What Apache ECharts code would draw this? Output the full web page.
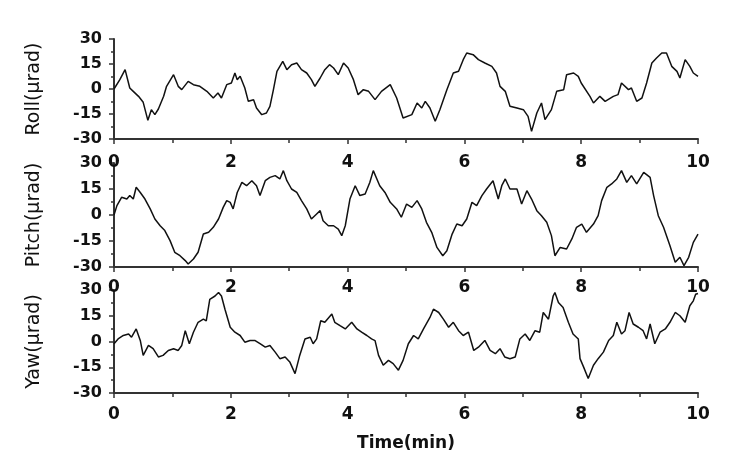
<!DOCTYPE html>
<html><head><meta charset="utf-8">
<script src="https://cdn.jsdelivr.net/npm/echarts@6/dist/echarts.min.js"></script>
<style>html,body{margin:0;padding:0;background:#fff}#c{width:743px;height:468px}</style>
</head><body><div id="c"></div>
<script>
const panelNames = ['Roll(\u03bcrad)', 'Pitch(\u03bcrad)', 'Yaw(\u03bcrad)'];
const xTickLabels = ['0', '2', '4', '6', '8', '10'];
const yTickLabels = ['-30', '-15', '0', '15', '30'];
const xTitle = 'Time(min)';

const roll = [[0,0],[0.1,5.6],[0.19,11.6],[0.27,0.6],[0.33,-1.4],[0.42,-4.4],[0.5,-8],[0.58,-18.8],[0.64,-12.4],[0.7,-15.4],[0.76,-12],[0.85,-4.4],[0.9,1.6],[1.02,8.6],[1.1,1.6],[1.16,-0.4],[1.27,4.6],[1.36,2.6],[1.47,1.6],[1.59,-1.4],[1.7,-5.4],[1.78,-2.4],[1.84,-5.4],[1.93,2.6],[2.01,3.6],[2.07,9.6],[2.11,5.6],[2.16,7.6],[2.24,0.6],[2.3,-7.4],[2.39,-6.4],[2.44,-11.4],[2.53,-15.4],[2.61,-14.4],[2.67,-10.4],[2.73,-0.4],[2.79,10.6],[2.89,16.6],[2.96,11.6],[3.04,14.6],[3.07,13.6],[3.13,15.6],[3.21,11.6],[3.3,9.6],[3.38,5.6],[3.44,1.6],[3.53,6.6],[3.61,11.6],[3.69,14.6],[3.76,12.6],[3.84,8.6],[3.93,15.6],[4.01,12.6],[4.1,5.6],[4.18,-3.4],[4.27,-0.4],[4.36,-1.4],[4.47,-6.4],[4.58,-1.4],[4.73,2.6],[4.84,-5.4],[4.95,-17.4],[5.1,-15.4],[5.19,-8.4],[5.27,-11.4],[5.33,-7.4],[5.41,-11.4],[5.5,-19.4],[5.58,-12.4],[5.7,-0.4],[5.81,9.6],[5.9,10.6],[5.98,17.6],[6.04,21.6],[6.15,20.6],[6.24,17.6],[6.35,15.6],[6.47,13.6],[6.55,9.6],[6.61,1.6],[6.7,-1.4],[6.78,-10.4],[6.9,-11.4],[7.01,-12.4],[7.09,-16.4],[7.15,-25.4],[7.24,-14.4],[7.32,-8.4],[7.38,-18.4],[7.49,-12.4],[7.58,-1.4],[7.7,-0.4],[7.75,8.6],[7.87,9.6],[7.95,7.6],[8.0,3.6],[8.15,-4.4],[8.21,-8.4],[8.32,-4.4],[8.41,-7.4],[8.55,-4.4],[8.63,-3.4],[8.69,3.6],[8.81,-0.4],[8.86,0.6],[8.95,-7.4],[9.04,-5.4],[9.12,3.6],[9.21,15.6],[9.29,18.6],[9.38,21.6],[9.46,21.6],[9.55,13.6],[9.64,10.6],[9.69,6.6],[9.78,17.6],[9.86,13.6],[9.92,9.6],[10,7.6]];

const pitch = [[0,0],[0.05,5.4],[0.13,10.2],[0.22,9.2],[0.27,11.2],[0.33,9.2],[0.38,16],[0.45,13],[0.53,9.2],[0.62,3.5],[0.7,-2.3],[0.79,-6.2],[0.87,-9],[0.96,-14.8],[1.04,-21.5],[1.13,-23.5],[1.22,-26.3],[1.27,-28.3],[1.36,-25.4],[1.44,-21.5],[1.53,-11],[1.62,-10],[1.7,-7.1],[1.79,-2.3],[1.87,4.4],[1.93,8.3],[1.99,7.3],[2.04,3.5],[2.11,13],[2.19,18.8],[2.27,16.9],[2.36,19.8],[2.44,16.9],[2.5,11.2],[2.59,19.8],[2.67,21.7],[2.76,22.7],[2.84,20.8],[2.9,25.6],[2.96,19.8],[3.04,15],[3.13,13],[3.21,8.3],[3.3,3.5],[3.38,-2.3],[3.47,0.6],[3.53,2.5],[3.58,-3.3],[3.67,-6.2],[3.76,-6.2],[3.84,-8.1],[3.9,-11.9],[3.96,-6.2],[4.04,9.2],[4.13,16.9],[4.21,11.2],[4.3,12.1],[4.38,18.8],[4.44,25.6],[4.47,24.6],[4.55,16.9],[4.64,13],[4.73,7.3],[4.84,3.5],[4.92,-1.3],[5.01,6.3],[5.1,4.4],[5.19,8.3],[5.27,3.5],[5.35,-4.2],[5.44,-10],[5.53,-18.7],[5.63,-23.5],[5.7,-20.6],[5.79,-11],[5.87,-5.2],[5.96,-6.2],[6.04,-2.3],[6.13,7.3],[6.21,5.4],[6.3,11.2],[6.38,15],[6.49,19.8],[6.58,9.2],[6.64,16.9],[6.7,20.8],[6.78,15],[6.9,15],[6.98,6.3],[7.07,14],[7.15,9.2],[7.24,2.5],[7.32,-0.4],[7.41,-4.2],[7.49,-11.9],[7.55,-23.5],[7.64,-18.7],[7.75,-19.6],[7.84,-13.8],[7.92,-7.1],[8.01,-5.2],[8.09,-10],[8.21,-5.2],[8.29,-0.4],[8.35,8.3],[8.44,16],[8.52,17.9],[8.61,20.8],[8.69,25.6],[8.78,18.8],[8.86,22.7],[8.95,17.9],[9.07,24.6],[9.18,21.7],[9.24,11.2],[9.32,-0.4],[9.41,-7.1],[9.52,-17.7],[9.61,-27.3],[9.69,-24.4],[9.76,-29.2],[9.84,-24.4],[9.92,-15.8],[10,-11]];

const yaw = [[0,-1.3],[0.07,1.5],[0.16,3.5],[0.25,4.4],[0.3,2.5],[0.38,7.3],[0.45,0.6],[0.5,-8.1],[0.59,-2.3],[0.67,-4.2],[0.76,-9],[0.84,-8.1],[0.93,-5.2],[1.02,-4.2],[1.1,-5.2],[1.16,-2.3],[1.22,6.3],[1.29,-1.3],[1.36,5.4],[1.44,11.2],[1.53,13],[1.58,12],[1.64,24.6],[1.73,26.5],[1.79,28.5],[1.84,26.5],[1.9,18.8],[1.99,8.3],[2.07,5.4],[2.16,3.5],[2.24,-0.4],[2.33,0.6],[2.41,0.6],[2.5,-1.3],[2.59,-3.3],[2.67,-2.3],[2.76,-6.2],[2.84,-10],[2.93,-9],[3.01,-11.9],[3.1,-18.7],[3.18,-8.1],[3.27,1.5],[3.36,2.5],[3.41,-1.3],[3.47,1.5],[3.54,12.1],[3.61,11.2],[3.73,16],[3.78,11.2],[3.87,9.2],[3.96,7.3],[4.07,11.2],[4.16,7.3],[4.24,5.4],[4.33,3.5],[4.41,1.5],[4.47,0.5],[4.53,-8.1],[4.61,-13.8],[4.7,-11],[4.78,-12.9],[4.87,-16.7],[4.95,-11],[5.04,-1.3],[5.13,3.5],[5.21,1.5],[5.3,7.3],[5.41,14],[5.47,18.8],[5.56,16.9],[5.64,13],[5.73,8.3],[5.81,11.2],[5.9,6.3],[5.98,3.5],[6.07,5.4],[6.16,-5.2],[6.24,-3.3],[6.35,0.6],[6.44,-5.2],[6.53,-7.1],[6.61,-4.2],[6.69,-9],[6.78,-10],[6.87,-9],[6.95,1.5],[7.04,4.4],[7.12,0.6],[7.21,6.3],[7.29,5.4],[7.35,16.9],[7.44,13],[7.52,26.5],[7.55,28.5],[7.61,22.7],[7.69,19.8],[7.78,11.2],[7.86,4.4],[7.95,1.5],[7.98,-10],[8.04,-14.8],[8.12,-21.5],[8.21,-13.8],[8.29,-10],[8.38,-6.2],[8.47,0.6],[8.55,3.5],[8.61,11.2],[8.69,4.4],[8.75,6.3],[8.82,16.9],[8.89,10.2],[8.98,8.3],[9.06,6.3],[9.12,1.5],[9.18,10.2],[9.26,-1.3],[9.35,5.4],[9.44,7.3],[9.52,11.2],[9.61,16.9],[9.69,15],[9.78,11.2],[9.86,20.8],[9.92,23.7],[9.96,27.5],[10,28]];

const seriesData = [roll, pitch, yaw];
const gridLayout = [{top: 39, height: 100, labelMargin: 15}, {top: 163, height: 104, labelMargin: 12}, {top: 290, height: 103, labelMargin: 13}];
const FONT = 'DejaVu Sans';

const grids = [], xAxes = [], yAxes = [], series = [];
for (let i = 0; i < 3; i++) {
  grids.push({left: 114, right: 45, top: gridLayout[i].top, height: gridLayout[i].height});
  xAxes.push({
    type: 'value', gridIndex: i, min: 0, max: 10, interval: 2,
    axisLine: {show: true, onZero: false, lineStyle: {color: '#333', width: 2}},
    axisTick: {show: true, inside: false, length: 5, lineStyle: {color: '#333', width: 1.5}},
    minorTick: {show: true, splitNumber: 2, length: 4, lineStyle: {color: '#333', width: 1.5}},
    splitLine: {show: false},
    axisLabel: {fontFamily: FONT, fontSize: 17, fontWeight: 'bold', color: '#111', margin: gridLayout[i].labelMargin,
      formatter: v => xTickLabels[Math.round(v / 2)] || ''},
    name: i === 2 ? xTitle : '', nameLocation: 'middle', nameGap: 42,
    nameTextStyle: {fontFamily: FONT, fontSize: 17, fontWeight: 'bold', color: '#111'}
  });
  yAxes.push({
    type: 'value', gridIndex: i, min: -30, max: 30, interval: 15,
    axisLine: {show: true, onZero: false, lineStyle: {color: '#333', width: 2}},
    axisTick: {show: true, inside: false, length: 5, lineStyle: {color: '#333', width: 1.5}},
    minorTick: {show: true, splitNumber: 2, length: 3, lineStyle: {color: '#333', width: 1.5}},
    splitLine: {show: false},
    axisLabel: {fontFamily: FONT, fontSize: 16, fontWeight: 'bold', color: '#111', margin: 12,
      formatter: v => yTickLabels[Math.round((v + 30) / 15)] || ''},
    name: panelNames[i], nameLocation: 'middle', nameGap: 70,
    nameTextStyle: {fontFamily: FONT, fontSize: 19, color: '#111'}
  });
  series.push({
    type: 'line', xAxisIndex: i, yAxisIndex: i, data: seriesData[i],
    showSymbol: false, symbol: 'none', lineStyle: {color: '#111', width: 1.5}
  });
}

const chart = echarts.init(document.getElementById('c'), null, {renderer: 'canvas'});
chart.setOption({
  animation: false, backgroundColor: '#fff',
  grid: grids, xAxis: xAxes, yAxis: yAxes, series: series
});
</script></body></html>
